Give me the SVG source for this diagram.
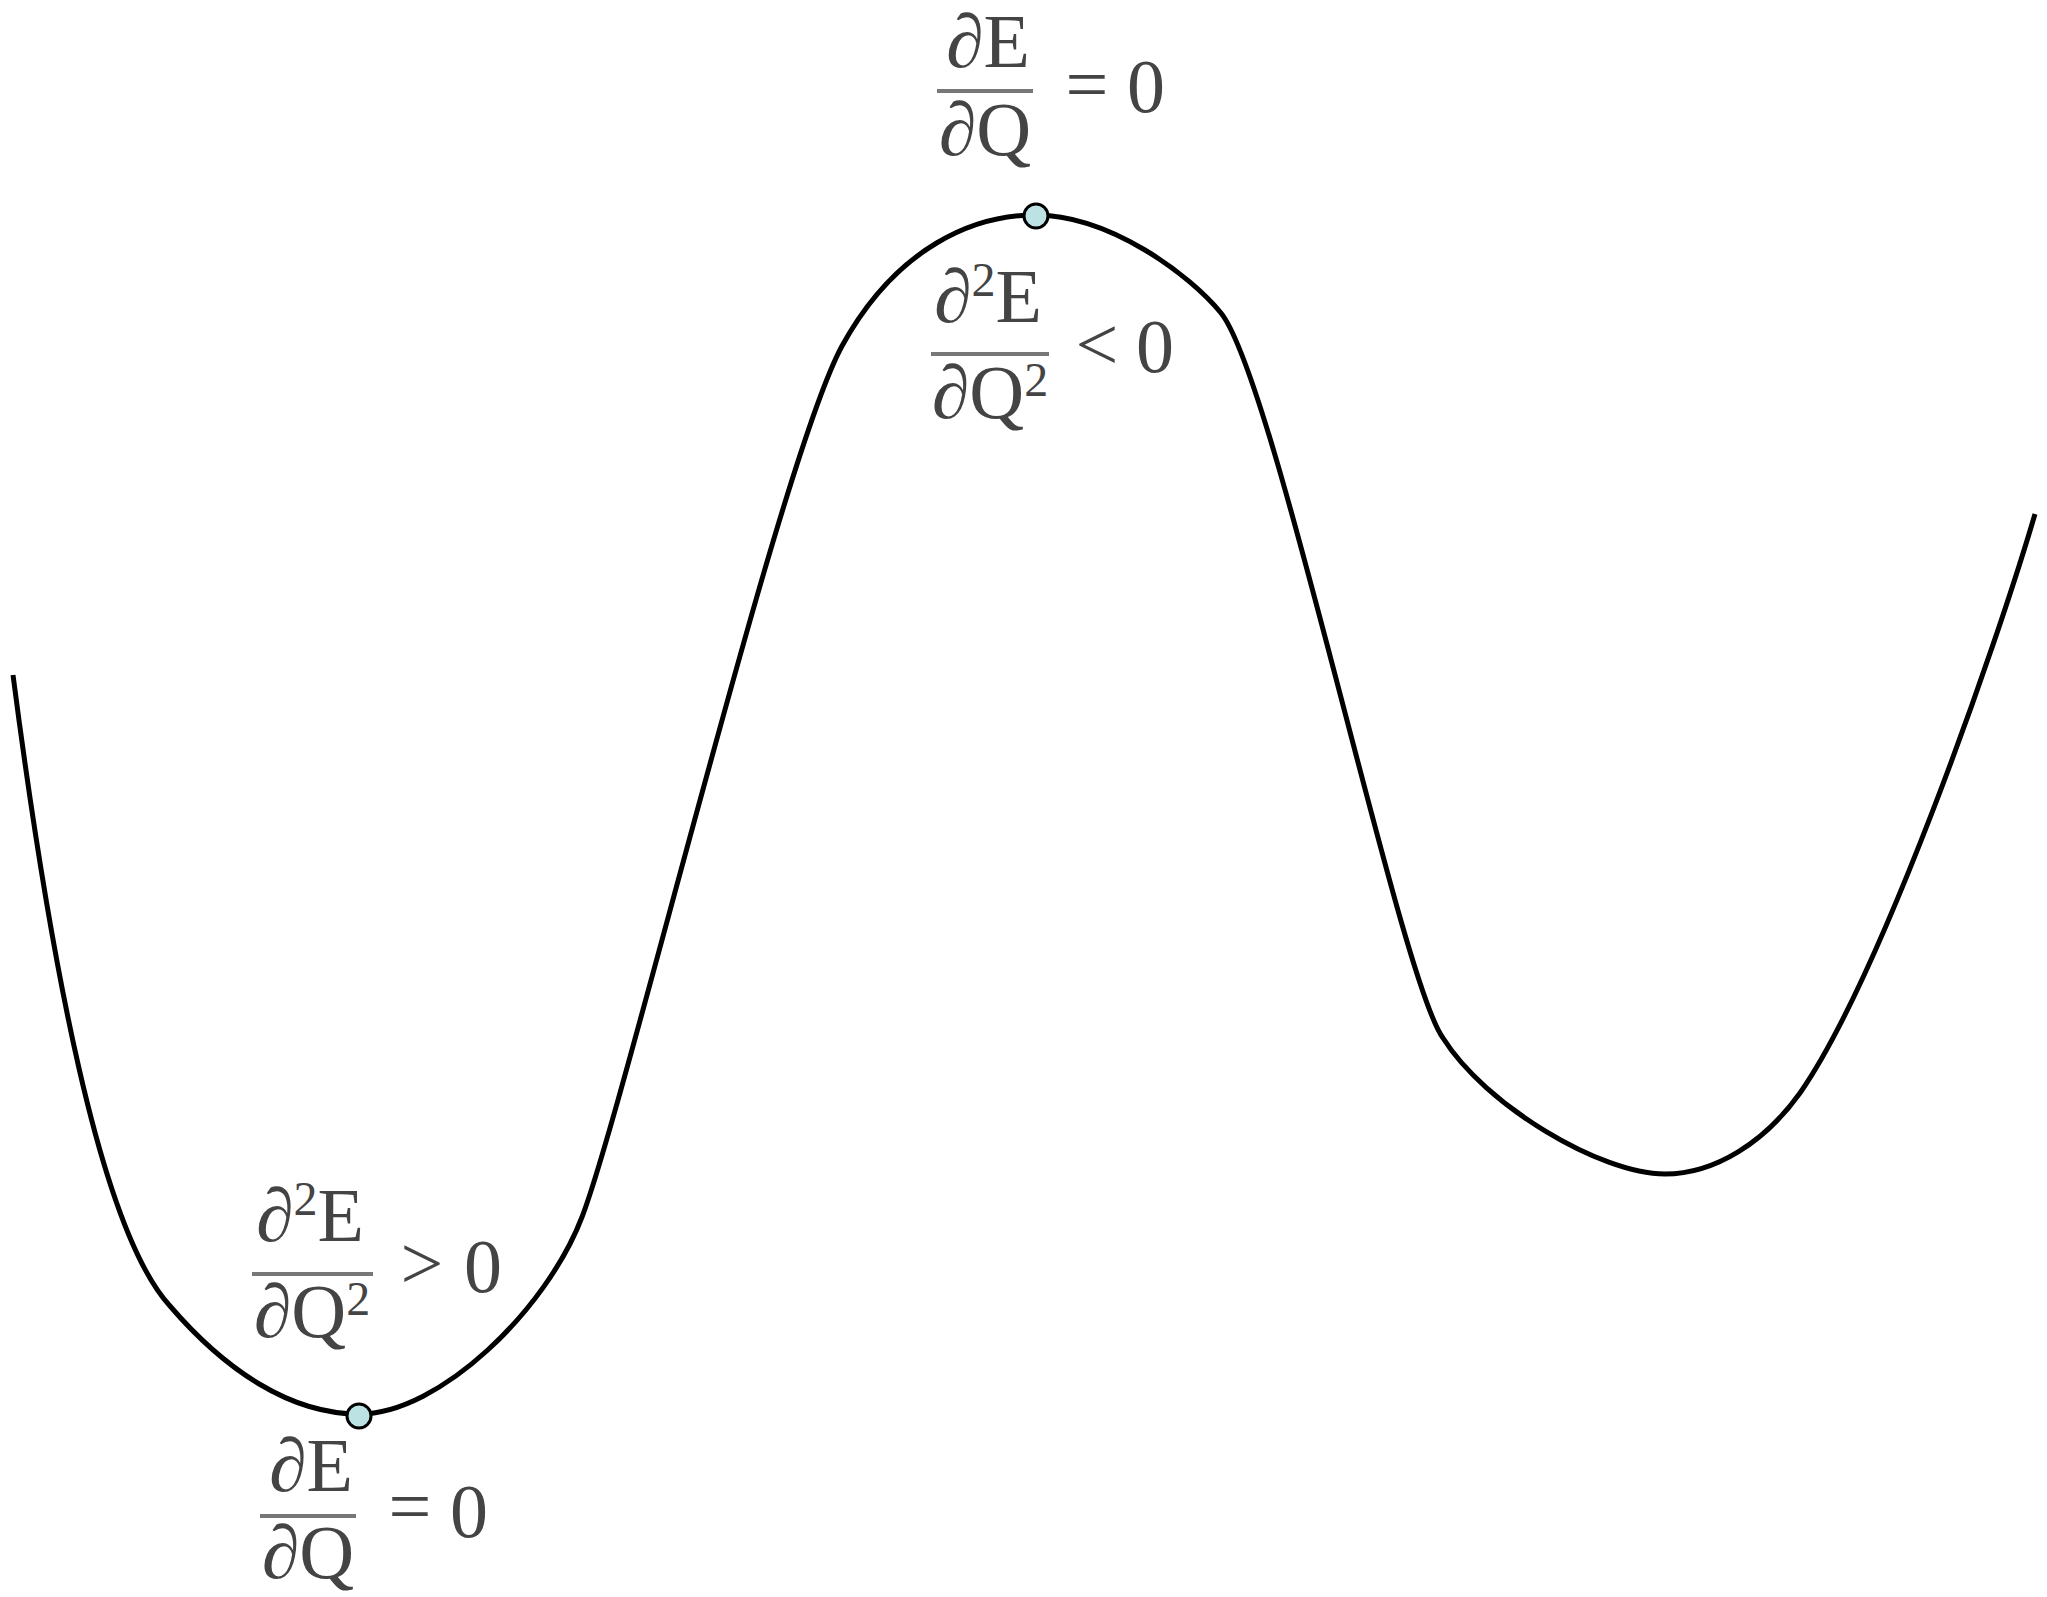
<svg xmlns="http://www.w3.org/2000/svg" width="2047" height="1597" viewBox="0 0 2047 1597">
<style>
.curve{fill:none;stroke:#000;stroke-width:5;stroke-linejoin:round}
.pt{fill:#bde2e4;stroke:#000;stroke-width:3}
.m{font-family:"Liberation Serif","Times New Roman",serif;font-size:76px;fill:#444;text-anchor:middle}
.sup{font-size:48px}
.bar{stroke:#777;stroke-width:4}
</style>
<rect width="2047" height="1597" fill="#fff"/>
<g id="connectors">
<path class="curve" d="M13 675 C50 960 100 1230 170 1306 C225 1370 290 1414 359 1414 C440 1414 547 1309 582 1217 C625 1105 780 460 842 346 C897 246 975 215 1035 215 C1110 215 1190 275 1221 313 C1275 380 1400 980 1443 1038 C1485 1105 1600 1174 1665 1174 C1715 1174 1765 1142 1800 1093 C1880 978 1995 650 2035 514"/>
</g>
<g id="point-max"><circle class="pt" cx="1036" cy="216" r="12"/></g>
<g id="point-min"><circle class="pt" cx="359" cy="1416" r="12"/></g>
<g id="label-max-first">
<text class="m" x="988" y="67">∂E</text>
<line class="bar" x1="937" y1="91" x2="1033" y2="91"/>
<text class="m" x="985" y="155">∂Q</text>
<text class="m" x="1087" y="110">=</text>
<text class="m" x="1146" y="112">0</text>
</g>
<g id="label-max-second">
<text class="m" x="988" y="322">∂<tspan class="sup" dy="-26">2</tspan><tspan dy="26">E</tspan></text>
<line class="bar" x1="931" y1="354" x2="1049" y2="354"/>
<text class="m" x="990" y="418">∂Q<tspan class="sup" dy="-22">2</tspan></text>
<text class="m" x="1097" y="370">&lt;</text>
<text class="m" x="1155" y="372">0</text>
</g>
<g id="label-min-second">
<text class="m" x="310" y="1241">∂<tspan class="sup" dy="-26">2</tspan><tspan dy="26">E</tspan></text>
<line class="bar" x1="252" y1="1274" x2="373" y2="1274"/>
<text class="m" x="312" y="1337">∂Q<tspan class="sup" dy="-22">2</tspan></text>
<text class="m" x="422" y="1289">&gt;</text>
<text class="m" x="483" y="1292">0</text>
</g>
<g id="label-min-first">
<text class="m" x="311" y="1491">∂E</text>
<line class="bar" x1="260" y1="1516" x2="356" y2="1516"/>
<text class="m" x="308" y="1578">∂Q</text>
<text class="m" x="410" y="1532">=</text>
<text class="m" x="469" y="1537">0</text>
</g>
</svg>
